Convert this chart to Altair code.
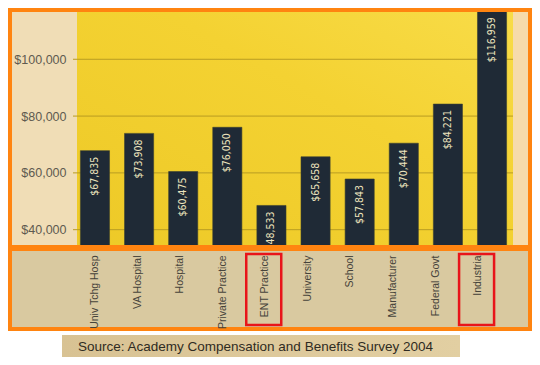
import altair as alt
import pandas as pd

categories = ["Univ Tchg Hosp", "VA Hospital", "Hospital", "Private Practice", "ENT Practice",
              "University", "School", "Manufacturer", "Federal Govt", "Industria"]
salaries = [67835, 73908, 60475, 76050, 48533, 65658, 57843, 70444, 84221, 116959]
highlighted = ["ENT Practice", "Industria"]
y_ticks = [40000, 60000, 80000, 100000]
source_text = "Source:  Academy Compensation and Benefits Survey 2004"

df = pd.DataFrame({"cat": categories, "salary": salaries})
hl = pd.DataFrame({"cat": highlighted})
grid_df = pd.DataFrame({"salary": y_ticks})
one = pd.DataFrame({"k": [0]})

W, H = 435, 236
cat_list = "[" + ",".join("'" + c + "'" for c in categories) + "]"
shift_expr = "-1.55*indexof(" + cat_list + ", datum.value)"
shift_expr_box = "-1.55*indexof(" + cat_list + ", datum.cat) - 1.5"

xscale = alt.Scale(domain=categories, paddingInner=0.34, paddingOuter=0.1)
yscale = alt.Scale(domain=[33900, 117000], zero=False, nice=False)

x_axis = alt.Axis(title=None, labelAngle=-90, domain=False, ticks=False, tickSize=0,
                  labelPadding=8, labelFont="Liberation Sans", labelFontSize=10.5,
                  labelColor="#46433b", labelOffset=alt.ExprRef(shift_expr),
                  zindex=1, grid=False, labelLimit=200)
y_axis = alt.Axis(title=None, values=y_ticks, format="$,.0f", grid=False, domain=False,
                  ticks=False, tickSize=0, labelPadding=10, labelFont="Liberation Sans",
                  labelFontSize=12.5, labelColor="#5e5a50", zindex=1)

x_enc = alt.X("cat:N", sort=categories, scale=xscale, axis=x_axis)
y_enc = alt.Y("salary:Q", scale=yscale, axis=y_axis)

# background panels
panel_top = alt.Chart(one).mark_rect(fill="#F0DDB6").encode(
    x=alt.value(-66), x2=alt.value(454), y=alt.value(-1), y2=alt.value(236))
plot_bg = alt.Chart(one).mark_rect(
    fill=alt.Gradient(gradient="linear", x1=0, y1=1, x2=1, y2=0,
                      stops=[alt.GradientStop(color="#EDC927", offset=0),
                             alt.GradientStop(color="#F4D232", offset=0.6),
                             alt.GradientStop(color="#F8DC48", offset=1)])
).encode(x=alt.value(1), x2=alt.value(437), y=alt.value(0), y2=alt.value(236))
right_strip = alt.Chart(one).mark_rect(fill="#F6DBAB").encode(
    x=alt.value(437), x2=alt.value(454), y=alt.value(-1), y2=alt.value(236))
panel_bottom = alt.Chart(one).mark_rect(fill="#D9C9A0").encode(
    x=alt.value(-66), x2=alt.value(454), y=alt.value(238), y2=alt.value(318))
source_box = alt.Chart(one).mark_rect(
    fill=alt.Gradient(gradient="linear", x1=0, y1=0, x2=1, y2=0,
                      stops=[alt.GradientStop(color="#D8C293", offset=0),
                             alt.GradientStop(color="#E2CFA2", offset=1)])
).encode(x=alt.value(-14), x2=alt.value(384), y=alt.value(324), y2=alt.value(346))
source = alt.Chart(one).mark_text(align="left", baseline="alphabetic", font="Liberation Sans",
                                  fontSize=13.5, color="#2f2b22").encode(
    x=alt.value(2), y=alt.value(340), text=alt.value(source_text))

grid = alt.Chart(grid_df).mark_rule(color="#B89C22", strokeWidth=1).encode(
    y=y_enc, x=alt.value(-3), x2=alt.value(437))

bars = alt.Chart(df).mark_bar(color="#1F2A36", stroke="#3a4030", strokeWidth=0.6, clip=True).encode(
    x=x_enc, y=y_enc)

values = alt.Chart(df).mark_text(angle=270, align="right", baseline="middle", dx=-6,
                                 font="DejaVu Sans Condensed, Liberation Sans, sans-serif",
                                 fontSize=10.5, color="#EDE4BE").encode(
    x=x_enc, y=y_enc,
    text=alt.Text("salary:Q", format="$,.0f"))

border_top = alt.Chart(one).mark_rect(fill=None, stroke="#FF8410", strokeWidth=4).encode(
    x=alt.value(-66), x2=alt.value(454), y=alt.value(-1), y2=alt.value(236))
border_bottom = alt.Chart(one).mark_rect(fill=None, stroke="#FF8410", strokeWidth=4).encode(
    x=alt.value(-66), x2=alt.value(454), y=alt.value(238), y2=alt.value(318))

boxes = alt.Chart(hl).mark_bar(fill=None, stroke="#E8141A", strokeWidth=2.5, width=35,
                               xOffset=alt.ExprRef(shift_expr_box)).encode(
    x=x_enc, y=alt.value(243), y2=alt.value(314))

chart = alt.layer(
    panel_top, plot_bg, right_strip, panel_bottom, source_box, source,
    grid, bars, values, border_top, border_bottom, boxes
).properties(
    width=W, height=H,
    padding={"left": 68, "top": 3, "right": 21, "bottom": 110},
    autosize=alt.AutoSizeParams(type="none"),
    background="#FFFFFF"
).configure_view(stroke=None, fill=None)

chart.save("out.html", embed_options={"renderer": "svg", "actions": False})
